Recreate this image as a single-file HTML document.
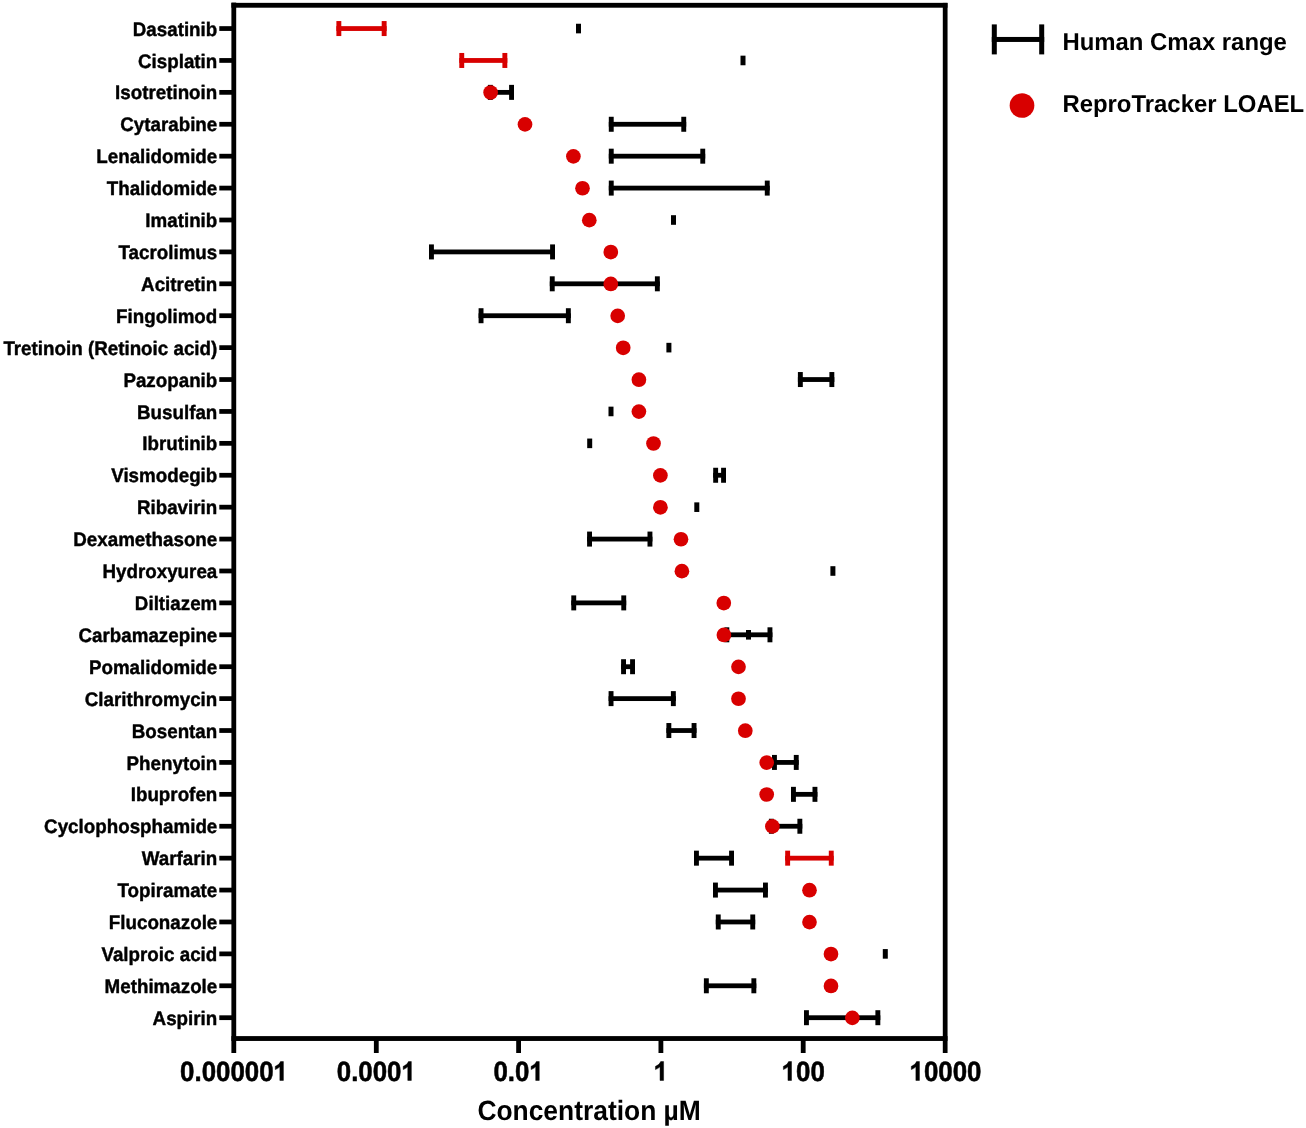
<!DOCTYPE html>
<html><head><meta charset="utf-8"><title>Chart</title>
<style>
html,body{margin:0;padding:0;background:#fff;}
body{width:1306px;height:1128px;overflow:hidden;font-family:"Liberation Sans",sans-serif;}
svg{display:block;will-change:transform;}
svg text{text-rendering:geometricPrecision;font-family:"Liberation Sans",sans-serif;font-weight:bold;fill:#000;}
</style></head><body>
<svg width="1306" height="1128" viewBox="0 0 1306 1128">
<rect x="0" y="0" width="1306" height="1128" fill="#ffffff"/>
<g fill="#000">
<rect x="231.4" y="2.6" width="4.8" height="1050.4"/>
<rect x="231.4" y="2.85" width="716.1" height="4.85"/>
<rect x="942.8" y="2.9" width="4.75" height="1050.1"/>
<rect x="231.4" y="1036.1" width="716.1" height="4.85"/>
<rect x="373.9" y="1038" width="4.8" height="15"/>
<rect x="516.2" y="1038" width="4.8" height="15"/>
<rect x="658.5" y="1038" width="4.8" height="15"/>
<rect x="800.8" y="1038" width="4.8" height="15"/>
<rect x="219.3" y="26.17" width="13" height="4.75"/>
<rect x="219.3" y="58.08" width="13" height="4.75"/>
<rect x="219.3" y="89.99" width="13" height="4.75"/>
<rect x="219.3" y="121.89" width="13" height="4.75"/>
<rect x="219.3" y="153.80" width="13" height="4.75"/>
<rect x="219.3" y="185.71" width="13" height="4.75"/>
<rect x="219.3" y="217.62" width="13" height="4.75"/>
<rect x="219.3" y="249.53" width="13" height="4.75"/>
<rect x="219.3" y="281.43" width="13" height="4.75"/>
<rect x="219.3" y="313.34" width="13" height="4.75"/>
<rect x="219.3" y="345.25" width="13" height="4.75"/>
<rect x="219.3" y="377.16" width="13" height="4.75"/>
<rect x="219.3" y="409.07" width="13" height="4.75"/>
<rect x="219.3" y="440.97" width="13" height="4.75"/>
<rect x="219.3" y="472.88" width="13" height="4.75"/>
<rect x="219.3" y="504.79" width="13" height="4.75"/>
<rect x="219.3" y="536.70" width="13" height="4.75"/>
<rect x="219.3" y="568.61" width="13" height="4.75"/>
<rect x="219.3" y="600.51" width="13" height="4.75"/>
<rect x="219.3" y="632.42" width="13" height="4.75"/>
<rect x="219.3" y="664.33" width="13" height="4.75"/>
<rect x="219.3" y="696.24" width="13" height="4.75"/>
<rect x="219.3" y="728.15" width="13" height="4.75"/>
<rect x="219.3" y="760.05" width="13" height="4.75"/>
<rect x="219.3" y="791.96" width="13" height="4.75"/>
<rect x="219.3" y="823.87" width="13" height="4.75"/>
<rect x="219.3" y="855.78" width="13" height="4.75"/>
<rect x="219.3" y="887.69" width="13" height="4.75"/>
<rect x="219.3" y="919.59" width="13" height="4.75"/>
<rect x="219.3" y="951.50" width="13" height="4.75"/>
<rect x="219.3" y="983.41" width="13" height="4.75"/>
<rect x="219.3" y="1015.32" width="13" height="4.75"/>
</g>
<g font-size="18.8" text-anchor="end" stroke="#000" stroke-width="0.4" stroke-linejoin="round">
<text transform="translate(217.3,35.65) scale(1,1.04)">Dasatinib</text>
<text transform="translate(217.3,67.56) scale(1,1.04)">Cisplatin</text>
<text transform="translate(217.3,99.47) scale(1,1.04)">Isotretinoin</text>
<text transform="translate(217.3,131.37) scale(1,1.04)">Cytarabine</text>
<text transform="translate(217.3,163.28) scale(1,1.04)">Lenalidomide</text>
<text transform="translate(217.3,195.19) scale(1,1.04)">Thalidomide</text>
<text transform="translate(217.3,227.10) scale(1,1.04)">Imatinib</text>
<text transform="translate(217.3,259.01) scale(1,1.04)">Tacrolimus</text>
<text transform="translate(217.3,290.91) scale(1,1.04)">Acitretin</text>
<text transform="translate(217.3,322.82) scale(1,1.04)">Fingolimod</text>
<text transform="translate(217.3,354.73) scale(1,1.04)">Tretinoin (Retinoic acid)</text>
<text transform="translate(217.3,386.64) scale(1,1.04)">Pazopanib</text>
<text transform="translate(217.3,418.55) scale(1,1.04)">Busulfan</text>
<text transform="translate(217.3,450.45) scale(1,1.04)">Ibrutinib</text>
<text transform="translate(217.3,482.36) scale(1,1.04)">Vismodegib</text>
<text transform="translate(217.3,514.27) scale(1,1.04)">Ribavirin</text>
<text transform="translate(217.3,546.18) scale(1,1.04)">Dexamethasone</text>
<text transform="translate(217.3,578.09) scale(1,1.04)">Hydroxyurea</text>
<text transform="translate(217.3,609.99) scale(1,1.04)">Diltiazem</text>
<text transform="translate(217.3,641.90) scale(1,1.04)">Carbamazepine</text>
<text transform="translate(217.3,673.81) scale(1,1.04)">Pomalidomide</text>
<text transform="translate(217.3,705.72) scale(1,1.04)">Clarithromycin</text>
<text transform="translate(217.3,737.63) scale(1,1.04)">Bosentan</text>
<text transform="translate(217.3,769.53) scale(1,1.04)">Phenytoin</text>
<text transform="translate(217.3,801.44) scale(1,1.04)">Ibuprofen</text>
<text transform="translate(217.3,833.35) scale(1,1.04)">Cyclophosphamide</text>
<text transform="translate(217.3,865.26) scale(1,1.04)">Warfarin</text>
<text transform="translate(217.3,897.17) scale(1,1.04)">Topiramate</text>
<text transform="translate(217.3,929.07) scale(1,1.04)">Fluconazole</text>
<text transform="translate(217.3,960.98) scale(1,1.04)">Valproic acid</text>
<text transform="translate(217.3,992.89) scale(1,1.04)">Methimazole</text>
<text transform="translate(217.3,1024.80) scale(1,1.04)">Aspirin</text>
</g>
<g fill="#d80000"><rect x="336.4" y="26.15" width="50.2" height="4.8"/><rect x="336.4" y="21.05" width="4.9" height="15.0"/><rect x="381.7" y="21.05" width="4.9" height="15.0"/></g>
<rect x="576.0" y="23.75" width="5" height="9.6" fill="#000"/>
<g fill="#d80000"><rect x="459.3" y="58.06" width="48.0" height="4.8"/><rect x="459.3" y="52.96" width="4.9" height="15.0"/><rect x="502.4" y="52.96" width="4.9" height="15.0"/></g>
<rect x="740.5" y="55.66" width="5" height="9.6" fill="#000"/>
<g fill="#000"><rect x="487.9" y="89.97" width="26.1" height="4.8"/><rect x="487.9" y="84.87" width="4.9" height="15.0"/><rect x="509.1" y="84.87" width="4.9" height="15.0"/></g>
<g fill="#000"><rect x="608.8" y="121.87" width="77.4" height="4.8"/><rect x="608.8" y="116.77" width="4.9" height="15.0"/><rect x="681.3" y="116.77" width="4.9" height="15.0"/></g>
<g fill="#000"><rect x="608.8" y="153.78" width="96.4" height="4.8"/><rect x="608.8" y="148.68" width="4.9" height="15.0"/><rect x="700.3" y="148.68" width="4.9" height="15.0"/></g>
<g fill="#000"><rect x="608.8" y="185.69" width="160.9" height="4.8"/><rect x="608.8" y="180.59" width="4.9" height="15.0"/><rect x="764.8" y="180.59" width="4.9" height="15.0"/></g>
<rect x="671.0" y="215.20" width="5" height="9.6" fill="#000"/>
<g fill="#000"><rect x="429.0" y="249.51" width="126.0" height="4.8"/><rect x="429.0" y="244.41" width="4.9" height="15.0"/><rect x="550.1" y="244.41" width="4.9" height="15.0"/></g>
<g fill="#000"><rect x="549.8" y="281.41" width="110.0" height="4.8"/><rect x="549.8" y="276.31" width="4.9" height="15.0"/><rect x="654.9" y="276.31" width="4.9" height="15.0"/></g>
<g fill="#000"><rect x="478.6" y="313.32" width="92.2" height="4.8"/><rect x="478.6" y="308.22" width="4.9" height="15.0"/><rect x="565.9" y="308.22" width="4.9" height="15.0"/></g>
<rect x="666.4" y="342.83" width="5" height="9.6" fill="#000"/>
<g fill="#000"><rect x="797.9" y="377.14" width="36.4" height="4.8"/><rect x="797.9" y="372.04" width="4.9" height="15.0"/><rect x="829.4" y="372.04" width="4.9" height="15.0"/></g>
<rect x="608.5" y="406.65" width="5" height="9.6" fill="#000"/>
<rect x="587.2" y="438.55" width="5" height="9.6" fill="#000"/>
<g fill="#000"><rect x="713.2" y="472.86" width="12.8" height="4.8"/><rect x="713.2" y="467.76" width="4.9" height="15.0"/><rect x="721.1" y="467.76" width="4.9" height="15.0"/></g>
<rect x="694.3" y="502.37" width="5" height="9.6" fill="#000"/>
<g fill="#000"><rect x="587.1" y="536.68" width="65.3" height="4.8"/><rect x="587.1" y="531.58" width="4.9" height="15.0"/><rect x="647.5" y="531.58" width="4.9" height="15.0"/></g>
<rect x="830.4" y="566.19" width="5" height="9.6" fill="#000"/>
<g fill="#000"><rect x="571.3" y="600.49" width="54.9" height="4.8"/><rect x="571.3" y="595.39" width="4.9" height="15.0"/><rect x="621.3" y="595.39" width="4.9" height="15.0"/></g>
<g fill="#000"><rect x="724.4" y="632.40" width="48.0" height="4.8"/><rect x="724.4" y="627.30" width="4.9" height="15.0"/><rect x="767.5" y="627.30" width="4.9" height="15.0"/></g>
<rect x="746.0" y="630.00" width="5" height="9.6" fill="#000"/>
<g fill="#000"><rect x="621.1" y="664.31" width="13.9" height="4.8"/><rect x="621.1" y="659.21" width="4.9" height="15.0"/><rect x="630.1" y="659.21" width="4.9" height="15.0"/></g>
<g fill="#000"><rect x="608.6" y="696.22" width="67.2" height="4.8"/><rect x="608.6" y="691.12" width="4.9" height="15.0"/><rect x="670.9" y="691.12" width="4.9" height="15.0"/></g>
<g fill="#000"><rect x="666.4" y="728.13" width="30.1" height="4.8"/><rect x="666.4" y="723.03" width="4.9" height="15.0"/><rect x="691.6" y="723.03" width="4.9" height="15.0"/></g>
<g fill="#000"><rect x="772.0" y="760.03" width="26.7" height="4.8"/><rect x="772.0" y="754.93" width="4.9" height="15.0"/><rect x="793.8" y="754.93" width="4.9" height="15.0"/></g>
<g fill="#000"><rect x="791.0" y="791.94" width="26.4" height="4.8"/><rect x="791.0" y="786.84" width="4.9" height="15.0"/><rect x="812.5" y="786.84" width="4.9" height="15.0"/></g>
<g fill="#000"><rect x="768.9" y="823.85" width="33.4" height="4.8"/><rect x="768.9" y="818.75" width="4.9" height="15.0"/><rect x="797.4" y="818.75" width="4.9" height="15.0"/></g>
<g fill="#000"><rect x="694.0" y="855.76" width="40.0" height="4.8"/><rect x="694.0" y="850.66" width="4.9" height="15.0"/><rect x="729.1" y="850.66" width="4.9" height="15.0"/></g>
<g fill="#d80000"><rect x="785.2" y="855.76" width="48.5" height="4.8"/><rect x="785.2" y="850.66" width="4.9" height="15.0"/><rect x="828.8" y="850.66" width="4.9" height="15.0"/></g>
<g fill="#000"><rect x="713.0" y="887.67" width="54.9" height="4.8"/><rect x="713.0" y="882.57" width="4.9" height="15.0"/><rect x="763.0" y="882.57" width="4.9" height="15.0"/></g>
<g fill="#000"><rect x="715.8" y="919.57" width="39.4" height="4.8"/><rect x="715.8" y="914.47" width="4.9" height="15.0"/><rect x="750.3" y="914.47" width="4.9" height="15.0"/></g>
<rect x="882.8" y="949.08" width="5" height="9.6" fill="#000"/>
<g fill="#000"><rect x="703.9" y="983.39" width="52.4" height="4.8"/><rect x="703.9" y="978.29" width="4.9" height="15.0"/><rect x="751.4" y="978.29" width="4.9" height="15.0"/></g>
<g fill="#000"><rect x="804.0" y="1015.30" width="76.3" height="4.8"/><rect x="804.0" y="1010.20" width="4.9" height="15.0"/><rect x="875.4" y="1010.20" width="4.9" height="15.0"/></g>
<circle cx="490.6" cy="92.52" r="7.35" fill="#d80000"/>
<circle cx="525.0" cy="124.42" r="7.35" fill="#d80000"/>
<circle cx="573.4" cy="156.33" r="7.35" fill="#d80000"/>
<circle cx="582.5" cy="188.24" r="7.35" fill="#d80000"/>
<circle cx="589.3" cy="220.15" r="7.35" fill="#d80000"/>
<circle cx="610.8" cy="252.06" r="7.35" fill="#d80000"/>
<circle cx="610.8" cy="283.96" r="7.35" fill="#d80000"/>
<circle cx="617.7" cy="315.87" r="7.35" fill="#d80000"/>
<circle cx="623.2" cy="347.78" r="7.35" fill="#d80000"/>
<circle cx="638.9" cy="379.69" r="7.35" fill="#d80000"/>
<circle cx="638.9" cy="411.60" r="7.35" fill="#d80000"/>
<circle cx="653.5" cy="443.50" r="7.35" fill="#d80000"/>
<circle cx="660.4" cy="475.41" r="7.35" fill="#d80000"/>
<circle cx="660.4" cy="507.32" r="7.35" fill="#d80000"/>
<circle cx="681.0" cy="539.23" r="7.35" fill="#d80000"/>
<circle cx="681.9" cy="571.14" r="7.35" fill="#d80000"/>
<circle cx="723.8" cy="603.04" r="7.35" fill="#d80000"/>
<circle cx="723.9" cy="634.95" r="7.35" fill="#d80000"/>
<circle cx="738.5" cy="666.86" r="7.35" fill="#d80000"/>
<circle cx="738.5" cy="698.77" r="7.35" fill="#d80000"/>
<circle cx="745.3" cy="730.68" r="7.35" fill="#d80000"/>
<circle cx="766.7" cy="762.58" r="7.35" fill="#d80000"/>
<circle cx="766.7" cy="794.49" r="7.35" fill="#d80000"/>
<circle cx="772.4" cy="826.40" r="7.35" fill="#d80000"/>
<circle cx="809.5" cy="890.22" r="7.35" fill="#d80000"/>
<circle cx="809.5" cy="922.12" r="7.35" fill="#d80000"/>
<circle cx="831.0" cy="954.03" r="7.35" fill="#d80000"/>
<circle cx="831.0" cy="985.94" r="7.35" fill="#d80000"/>
<circle cx="852.35" cy="1017.85" r="7.35" fill="#d80000"/>
<g font-size="25.85" stroke="#000" stroke-width="0.5" stroke-linejoin="round">
<text transform="translate(180.09,1080.65) scale(1,1.08)">0.00000</text>
<path stroke-width="36" transform="translate(273.23,1080.45) scale(0.012622,-0.012824)" d="M806 0H525V1059Q371 915 162 846V1101Q272 1137 401 1237.5Q530 1338 578 1472H806Z"/>
<text transform="translate(336.77,1080.65) scale(1,1.08)">0.000</text>
<path stroke-width="36" transform="translate(401.16,1080.45) scale(0.012622,-0.012824)" d="M806 0H525V1059Q371 915 162 846V1101Q272 1137 401 1237.5Q530 1338 578 1472H806Z"/>
<text transform="translate(493.44,1080.65) scale(1,1.08)">0.0</text>
<path stroke-width="36" transform="translate(529.08,1080.45) scale(0.012622,-0.012824)" d="M806 0H525V1059Q371 915 162 846V1101Q272 1137 401 1237.5Q530 1338 578 1472H806Z"/>
<path stroke-width="36" transform="translate(653.41,1080.45) scale(0.012622,-0.012824)" d="M806 0H525V1059Q371 915 162 846V1101Q272 1137 401 1237.5Q530 1338 578 1472H806Z"/>
<path stroke-width="36" transform="translate(781.34,1080.45) scale(0.012622,-0.012824)" d="M806 0H525V1059Q371 915 162 846V1101Q272 1137 401 1237.5Q530 1338 578 1472H806Z"/>
<text transform="translate(796.01,1080.65) scale(1,1.08)">00</text>
<path stroke-width="36" transform="translate(909.26,1080.45) scale(0.012622,-0.012824)" d="M806 0H525V1059Q371 915 162 846V1101Q272 1137 401 1237.5Q530 1338 578 1472H806Z"/>
<text transform="translate(923.94,1080.65) scale(1,1.08)">0000</text>
</g>
<text transform="translate(589.1,1119.5) scale(1,1.055)" font-size="26.4" text-anchor="middle">Concentration µM</text>
<g fill="#000"><rect x="991.8" y="36.95" width="52.4" height="5"/><rect x="991.8" y="24.4" width="5" height="30"/><rect x="1039.2" y="24.4" width="5" height="30"/></g>
<circle cx="1022.0" cy="105.5" r="12.35" fill="#d80000"/>
<text transform="translate(1062.4,50.0) scale(1,1.02)" font-size="23.92">Human Cmax range</text>
<text transform="translate(1062.4,111.8) scale(1,1.02)" font-size="23.92">ReproTracker LOAEL</text>
</svg>
</body></html>
